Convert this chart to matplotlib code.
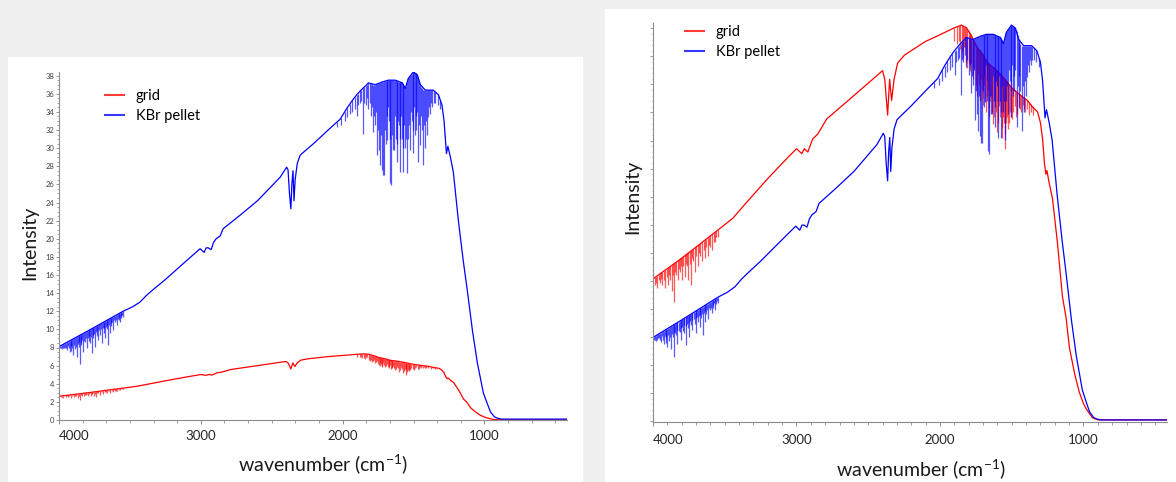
import numpy as np
import matplotlib
matplotlib.use("Agg")
import matplotlib.pyplot as plt
from matplotlib.patches import Rectangle
from matplotlib.lines import Line2D
from matplotlib.ticker import MultipleLocator, NullFormatter

plt.rcParams['font.family'] = ['Lato', 'DejaVu Sans']
plt.rcParams['mathtext.default'] = 'regular'

# ---------------- data ----------------
SERIES = ["grid", "KBr pellet"]
X_TICKS = [4000, 3000, 2000, 1000]
Y_TICKS_LEFT = list(range(0, 40, 2))

# KBr pellet envelope (wavenumber, intensity)
WN_BLUE = [4000, 3800, 3548, 3480, 3430, 3380, 3320, 3250, 3150, 3005, 2977, 2962, 2948,
           2927, 2910, 2892, 2864, 2843, 2723, 2600, 2440, 2395, 2385, 2375, 2365, 2358,
           2350, 2343, 2335, 2320, 2300, 2287, 2205, 2088, 2017, 1970, 1930, 1900, 1864,
           1829, 1819, 1770, 1721, 1678, 1629, 1579, 1558, 1537, 1502, 1474, 1452, 1417,
           1361, 1325, 1300, 1285, 1268, 1258, 1240, 1219, 1184, 1149, 1121, 1085, 1050,
           1008, 980, 958, 930, 909, 880, 420]
I_BLUE = [8.1, 9.8, 12.0, 12.5, 13.0, 13.8, 14.6, 15.5, 16.9, 18.9, 18.5, 19.0, 19.0,
          18.8, 19.6, 20.0, 20.3, 21.1, 22.6, 24.2, 26.8, 27.9, 27.6, 25.0, 23.3, 26.0,
          27.5, 24.2, 26.5, 28.3, 29.2, 29.4, 30.5, 32.2, 33.2, 34.4, 35.3, 35.9, 36.5,
          37.0, 37.2, 37.0, 37.3, 37.5, 37.5, 37.2, 36.6, 37.7, 38.4, 38.1, 37.0, 36.4,
          36.4, 35.9, 34.8, 33.0, 29.4, 30.2, 29.0, 27.3, 22.0, 17.5, 14.3, 9.9, 6.3,
          3.0, 1.8, 0.9, 0.35, 0.2, 0.1, 0.1]

# KBr pellet absorption lines (wavenumber, top, bottom)
BLUE_LINE_WN = [3992, 3985, 3978, 3972, 3966, 3960, 3952, 3944, 3937, 3930, 3922, 3917, 3912,
                3906, 3901, 3895, 3890, 3880, 3873, 3867, 3862, 3857, 3852, 3847, 3842, 3836,
                3831, 3822, 3815, 3808, 3802, 3795, 3790, 3785, 3781, 3772, 3767, 3762, 3757,
                3750, 3746, 3740, 3735, 3730, 3725, 3717, 3710, 3703, 3697, 3690, 3685, 3680,
                3675, 3670, 3664, 3659, 3654, 3647, 3640, 3635, 3630, 3624, 3619, 3612, 3605,
                3598, 3591, 3585, 3580, 3575, 3570, 3565, 3560, 3554, 3548,
                2040, 2010, 1985, 1967, 1950, 1932, 1915, 1897, 1890, 1876, 1868, 1855, 1846,
                1838, 1828, 1819, 1810, 1800, 1792, 1785, 1778, 1770, 1763, 1756, 1749, 1742,
                1735, 1728, 1721, 1713, 1706, 1700, 1695, 1690, 1685, 1680, 1675, 1669, 1664,
                1657, 1650, 1643, 1636, 1630, 1625, 1620, 1615, 1609, 1604, 1599, 1594, 1588,
                1583, 1577, 1572, 1566, 1560, 1552, 1544, 1537, 1530, 1523, 1517, 1512, 1507,
                1502, 1496, 1490, 1486, 1481, 1474, 1466, 1459, 1452, 1446, 1440, 1431, 1424,
                1417, 1410, 1403, 1396, 1390, 1382, 1375, 1368, 1356, 1347, 1330, 1311]
BLUE_LINE_TOP = [8.15, 8.2, 8.28, 8.34, 8.4, 8.45, 8.52, 8.58, 8.64, 8.7, 8.77, 8.82, 8.86,
                 8.91, 8.96, 9.01, 9.05, 9.14, 9.2, 9.25, 9.3, 9.34, 9.38, 9.43, 9.47, 9.52,
                 9.56, 9.64, 9.7, 9.76, 9.81, 9.87, 9.9, 9.95, 9.99, 10.07, 10.11, 10.15, 10.2,
                 10.26, 10.29, 10.35, 10.4, 10.44, 10.48, 10.55, 10.6, 10.66, 10.72, 10.77, 10.8, 10.85,
                 10.91, 10.95, 11.0, 11.05, 11.09, 11.15, 11.21, 11.26, 11.3, 11.35, 11.39, 11.45, 11.5,
                 11.57, 11.63, 11.66, 11.7, 11.76, 11.82, 11.86, 11.9, 11.95, 12.0,
                 32.9, 33.3, 34.0, 34.4, 34.9, 35.3, 35.6, 35.9, 36.0, 36.3, 36.4, 36.6, 36.8,
                 36.9, 37.0, 37.2, 37.2, 37.1, 37.05, 37.0, 37.0, 37.0, 37.05, 37.1, 37.15, 37.2,
                 37.2, 37.25, 37.3, 37.3, 37.4, 37.4, 37.4, 37.45, 37.5, 37.5, 37.5, 37.5, 37.5,
                 37.5, 37.5, 37.5, 37.5, 37.5, 37.5, 37.45, 37.4, 37.35, 37.3, 37.3, 37.3, 37.25,
                 37.2, 37.1, 37.0, 36.85, 36.7, 36.9, 37.3, 37.7, 37.85, 38.0, 38.1, 38.2, 38.3,
                 38.4, 38.35, 38.3, 38.25, 38.2, 38.1, 37.8, 37.4, 37.0, 36.8, 36.6, 36.4, 36.4,
                 36.4, 36.4, 36.4, 36.4, 36.4, 36.4, 36.4, 36.4, 36.3, 36.2, 36.0, 35.2]
BLUE_LINE_BOT = [7.9, 7.9, 7.8, 7.9, 8.0, 8.0, 7.9, 7.7, 8.2, 7.9, 7.5, 8.2, 7.6,
                 8.0, 7.2, 8.3, 7.8, 8.1, 7.0, 8.4, 8.1, 8.6, 6.2, 8.5, 8.3, 8.8,
                 7.5, 8.7, 8.6, 9.0, 7.9, 9.1, 8.7, 9.3, 8.5, 9.2, 7.4, 9.4, 9.0,
                 9.5, 8.1, 9.7, 9.3, 9.8, 8.8, 9.9, 9.4, 10.0, 8.5, 10.1, 9.6, 10.2,
                 9.1, 10.3, 10.0, 10.4, 8.3, 10.5, 9.6, 10.7, 10.4, 10.8, 9.9, 11.0, 10.8,
                 11.0, 10.5, 11.2, 11.0, 11.4, 10.8, 11.5, 11.3, 11.6, 11.4,
                 32.3, 32.6, 33.0, 33.4, 33.8, 34.0, 34.3, 33.6, 34.8, 35.0, 35.2, 31.6, 35.0,
                 34.8, 35.5, 34.3, 35.0, 33.6, 34.5, 31.8, 33.5, 32.6, 34.0, 29.2, 32.0, 29.8,
                 28.1, 31.5, 27.6, 27.0, 27.0, 32.0, 30.5, 33.5, 30.9, 34.5, 33.0, 31.0, 26.2,
                 25.9, 31.5, 29.8, 29.8, 33.5, 31.0, 30.5, 28.5, 33.0, 32.5, 31.0, 27.4, 33.5,
                 31.0, 30.0, 27.4, 32.5, 30.0, 31.0, 27.3, 31.0, 32.5, 29.8, 34.0, 33.0, 32.0,
                 29.5, 34.5, 31.5, 32.0, 33.5, 34.0, 28.5, 32.5, 30.4, 33.5, 32.0, 28.1, 32.5,
                 30.0, 33.0, 31.5, 33.4, 34.5, 33.8, 35.0, 34.5, 35.0, 35.0, 34.8, 34.3]

# grid envelope (wavenumber, intensity)
WN_RED = [4000, 3800, 3548, 3443, 3358, 3207, 3100, 3000, 2963, 2945, 2921, 2887, 2852,
          2789, 2600, 2400, 2385, 2365, 2351, 2337, 2320, 2295, 2246, 2100, 2017, 1900,
          1850, 1815, 1780, 1745, 1700, 1669, 1620, 1571, 1502, 1446, 1390, 1356, 1320,
          1300, 1285, 1272, 1262, 1255, 1240, 1216, 1182, 1147, 1121, 1098, 1060, 1029,
          1000, 980, 938, 900, 420]
I_RED = [2.62, 3.0, 3.52, 3.74, 4.0, 4.45, 4.75, 5.02, 4.93, 5.02, 4.96, 5.2, 5.29,
         5.57, 6.0, 6.46, 6.3, 5.64, 6.3, 5.91, 6.3, 6.6, 6.75, 7.0, 7.1, 7.25,
         7.3, 7.25, 7.1, 6.9, 6.75, 6.6, 6.5, 6.37, 6.15, 6.02, 5.91, 5.79, 5.7,
         5.5, 5.2, 4.75, 4.55, 4.62, 4.4, 4.1, 3.3, 2.3, 1.9, 1.35, 0.85, 0.53,
         0.32, 0.22, 0.06, 0.02, 0.02]

# grid absorption lines (wavenumber, top, bottom)
RED_LINE_WN = [3985, 3978, 3972, 3960, 3950, 3943, 3937, 3926, 3916, 3905, 3896, 3888, 3880,
               3868, 3861, 3854, 3846, 3840, 3826, 3819, 3812, 3805, 3798, 3788, 3777, 3770,
               3766, 3756, 3745, 3736, 3729, 3722, 3708, 3697, 3687, 3678, 3670, 3659, 3648,
               3638, 3628, 3617, 3608, 3600, 3589, 3578, 3569, 3558, 3548,
               1900, 1880, 1870, 1860, 1850, 1840, 1832, 1825, 1817, 1810, 1800, 1794, 1788,
               1782, 1773, 1767, 1760, 1752, 1745, 1740, 1735, 1730, 1724, 1719, 1715, 1709,
               1703, 1697, 1690, 1683, 1676, 1670, 1665, 1660, 1655, 1650, 1645, 1640, 1634,
               1627, 1620, 1613, 1606, 1598, 1590, 1582, 1571, 1565, 1560, 1555, 1550, 1545,
               1540, 1535, 1529, 1522, 1515, 1505, 1495, 1488, 1480, 1470, 1460, 1452, 1445,
               1435, 1425, 1418, 1410, 1395, 1380, 1365, 1350]
RED_LINE_TOP = [2.65, 2.66, 2.68, 2.7, 2.72, 2.74, 2.75, 2.77, 2.79, 2.81, 2.83, 2.84, 2.86,
                2.88, 2.9, 2.91, 2.93, 2.94, 2.97, 2.98, 3.0, 3.01, 3.02, 3.05, 3.07, 3.08,
                3.09, 3.11, 3.13, 3.15, 3.16, 3.18, 3.2, 3.23, 3.25, 3.27, 3.28, 3.3, 3.32,
                3.34, 3.36, 3.38, 3.4, 3.42, 3.44, 3.46, 3.48, 3.5, 3.52,
                7.25, 7.28, 7.29, 7.3, 7.3, 7.28, 7.27, 7.26, 7.24, 7.22, 7.2, 7.16, 7.13,
                7.1, 7.05, 7.02, 7.0, 6.96, 6.92, 6.9, 6.88, 6.86, 6.84, 6.82, 6.8, 6.78,
                6.76, 6.73, 6.7, 6.68, 6.66, 6.64, 6.62, 6.6, 6.58, 6.56, 6.55, 6.53, 6.52,
                6.51, 6.5, 6.47, 6.45, 6.43, 6.42, 6.4, 6.37, 6.35, 6.33, 6.31, 6.3, 6.28,
                6.27, 6.25, 6.23, 6.21, 6.19, 6.16, 6.14, 6.12, 6.1, 6.08, 6.05, 6.03, 6.02,
                6.0, 5.97, 5.96, 5.94, 5.92, 5.88, 5.85, 5.8]
RED_LINE_BOT = [2.5, 2.55, 2.45, 2.6, 2.55, 2.62, 2.5, 2.6, 2.45, 2.65, 2.5, 2.7, 2.6,
                2.4, 2.7, 2.2, 2.75, 2.7, 2.6, 2.8, 2.75, 2.85, 2.6, 2.85, 2.65, 2.9,
                2.85, 2.6, 2.9, 2.5, 3.0, 2.95, 2.75, 3.05, 2.85, 3.1, 3.05, 2.95, 3.15,
                3.0, 3.2, 3.05, 3.25, 3.2, 3.15, 3.3, 3.3, 3.4, 3.4,
                7.0, 6.95, 7.0, 6.85, 6.8, 6.7, 6.9, 6.9, 6.6, 6.5, 6.6, 6.45, 6.5,
                6.6, 6.3, 6.4, 6.5, 6.2, 6.1, 6.0, 6.4, 6.2, 5.94, 5.9, 6.3, 6.1,
                5.82, 5.95, 6.2, 5.9, 5.7, 6.0, 6.1, 5.6, 5.79, 5.9, 6.0, 5.7, 5.48,
                5.6, 5.9, 5.7, 5.33, 5.5, 5.8, 5.6, 5.21, 5.4, 5.6, 5.5, 5.02, 5.3,
                5.5, 5.6, 5.39, 5.5, 5.7, 5.6, 5.57, 5.7, 5.8, 5.6, 5.66, 5.8, 5.75,
                5.7, 5.82, 5.75, 5.7, 5.75, 5.65, 5.7, 5.65]

# right panel: grid curve scaled to the same maximum as the KBr curve
RED_SCALE_RIGHT = 5.26

# ---------------- figure ----------------
W, H = 1176, 482
fig = plt.figure(figsize=(W / 100, H / 100), dpi=100)
fig.patch.set_facecolor('#f0f0f0')


def fx(x):
    return x / W


def fy(y):
    return 1 - y / H


# white panels
fig.patches.append(Rectangle((fx(8), 0), fx(583) - fx(8), fy(57), transform=fig.transFigure,
                             facecolor='white', edgecolor='none', zorder=-1))
fig.patches.append(Rectangle((fx(605), 0), 1 - fx(605), fy(9), transform=fig.transFigure,
                             facecolor='white', edgecolor='none', zorder=-1))

RED = '#ff0000'
BLUE = '#0000ff'
AXCOL = '#8c8c8c'


def draw_panel(ax, red_scale):
    ax.plot(WN_RED, np.array(I_RED) * red_scale, color=RED, lw=0.9)
    ax.vlines(RED_LINE_WN, np.array(RED_LINE_BOT) * red_scale, np.array(RED_LINE_TOP) * red_scale,
              color=RED, lw=0.9, alpha=0.65)
    ax.plot(WN_BLUE, I_BLUE, color=BLUE, lw=0.9)
    ax.vlines(BLUE_LINE_WN, BLUE_LINE_BOT, BLUE_LINE_TOP, color=BLUE, lw=0.9, alpha=0.65)
    for s in ['top', 'right']:
        ax.spines[s].set_visible(False)
    for s in ['left', 'bottom']:
        ax.spines[s].set_color(AXCOL)
        ax.spines[s].set_linewidth(0.8)
    ax.set_xlim(4000, 418)
    ax.set_xticks(X_TICKS)
    ax.set_xticklabels([str(t) for t in X_TICKS])
    ax.get_xticklabels()[0].set_horizontalalignment('left')
    ax.tick_params(axis='x', which='major', labelsize=9.5, length=3, width=0.7, color=AXCOL,
                   labelcolor='#262626', pad=4)
    ax.tick_params(axis='x', which='minor', length=2, width=0.6, color=AXCOL)
    ax.set_facecolor('white')
    handles = [Line2D([], [], color='#ff3a3a', lw=1.5), Line2D([], [], color='#3a3aff', lw=1.5)]
    return handles


# left panel
ax1 = fig.add_axes([fx(59), fy(420), fx(567) - fx(59), fy(72) - fy(420)])
h = draw_panel(ax1, 1.0)
ax1.set_ylim(0, 38.4)
ax1.set_yticks(Y_TICKS_LEFT)
ax1.set_yticklabels([str(t) for t in Y_TICKS_LEFT])
ax1.yaxis.set_minor_locator(MultipleLocator(0.5))
ax1.xaxis.set_minor_locator(MultipleLocator(1000 / 6))
ax1.tick_params(axis='y', which='major', labelsize=5.5, length=2.5, width=0.6, color=AXCOL,
                labelcolor='#404040', pad=1)
ax1.tick_params(axis='y', which='minor', length=1.2, width=0.5, color=AXCOL)
ax1.legend(h, SERIES, loc='upper left', bbox_to_anchor=(fx(105), fy(89)),
           bbox_transform=fig.transFigure, frameon=False, fontsize=10.5, handlelength=1.3,
           handletextpad=0.8, labelspacing=0.42, borderpad=0, borderaxespad=0)

# right panel
ax2 = fig.add_axes([fx(653), fy(422), fx(1167) - fx(653), fy(23) - fy(422)])
h = draw_panel(ax2, RED_SCALE_RIGHT)
ax2.set_ylim(-0.1, 38.6)
ax2.yaxis.set_major_locator(MultipleLocator(2.72))
ax2.yaxis.set_minor_locator(MultipleLocator(2.72 / 5))
ax2.yaxis.set_major_formatter(NullFormatter())
ax2.xaxis.set_minor_locator(MultipleLocator(100))
ax2.tick_params(axis='y', which='major', length=2.5, width=0.6, color=AXCOL)
ax2.tick_params(axis='y', which='minor', length=1.0, width=0.5, color=AXCOL)
ax2.tick_params(axis='x', which='major', pad=6)
ax2.legend(h, SERIES, loc='upper left', bbox_to_anchor=(fx(685), fy(25)),
           bbox_transform=fig.transFigure, frameon=False, fontsize=10.5, handlelength=1.3,
           handletextpad=0.8, labelspacing=0.42, borderpad=0, borderaxespad=0)

# axis titles
XLAB = 'wavenumber (cm$^{-1}$)'
fig.text(fx(323), fy(464), XLAB, ha='center', va='center', fontsize=14, color='#1a1a1a')
fig.text(fx(921), fy(469), XLAB, ha='center', va='center', fontsize=14, color='#1a1a1a')
fig.text(fx(30), fy(243), 'Intensity', rotation=90, ha='center', va='center', fontsize=14,
         color='#1a1a1a')
fig.text(fx(633), fy(197), 'Intensity', rotation=90, ha='center', va='center', fontsize=14,
         color='#1a1a1a')

fig.savefig('out.png', dpi=100, facecolor=fig.get_facecolor())
